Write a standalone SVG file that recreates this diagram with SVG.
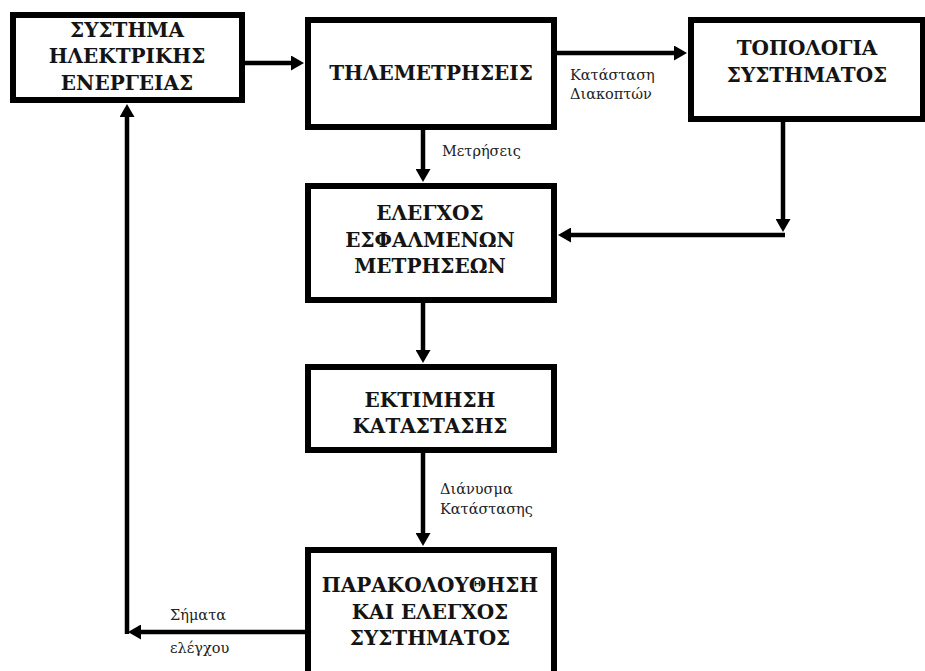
<svg xmlns="http://www.w3.org/2000/svg" width="925" height="671" viewBox="0 0 925 671">
  <defs>
    <marker id="arrow" viewBox="0 0 13 15" refX="1" refY="7.5" markerWidth="13" markerHeight="15" markerUnits="userSpaceOnUse" orient="auto">
      <path d="M0,0 L13,7.5 L0,15 z" fill="#000"/>
    </marker>
    <style>
      .box { fill: #fff; stroke: #000; stroke-width: 6; }
      .title { font-family: "DejaVu Serif", "Liberation Serif", serif; font-weight: bold; font-size: 20px; fill: #141414; text-anchor: middle; }
      .label { font-family: "DejaVu Serif", "Liberation Serif", serif; font-size: 14.5px; fill: #222; }
      .wire { fill: none; stroke: #000; stroke-width: 4.5; }
      .wire.arrow { marker-end: url(#arrow); }
    </style>
  </defs>
  <rect width="925" height="671" fill="#fff"/>

  <!-- connectors -->
  <g id="connectors">
    <path class="wire arrow" d="M245,63 H292"/>
    <path class="wire arrow" d="M557,53 H675"/>
    <path class="wire arrow" d="M423,130 V170"/>
    <path class="wire arrow" d="M783,122 V220"/>
    <path class="wire arrow" d="M785,235 H570"/>
    <path class="wire arrow" d="M423,303 V351"/>
    <path class="wire arrow" d="M423,453 V534"/>
    <path class="wire arrow" d="M305,632 H140"/>
    <path class="wire arrow" d="M127,634 V116"/>
    <text class="label" x="570" y="80">Κατάσταση</text>
    <text class="label" x="570" y="99">Διακοπτών</text>
    <text class="label" x="442" y="156">Μετρήσεις</text>
    <text class="label" x="440" y="494">Διάνυσμα</text>
    <text class="label" x="440" y="514">Κατάστασης</text>
    <text class="label" x="170" y="620">Σήματα</text>
    <text class="label" x="170" y="653">ελέγχου</text>
  </g>

  <!-- nodes -->
  <g id="power-system">
    <rect class="box" x="13" y="15" width="229" height="85"/>
    <text class="title" x="127" y="37">ΣΥΣΤΗΜΑ</text>
    <text class="title" x="127" y="63">ΗΛΕΚΤΡΙΚΗΣ</text>
    <text class="title" x="127" y="90">ΕΝΕΡΓΕΙΑΣ</text>
  </g>
  <g id="telemetry">
    <rect class="box" x="308" y="20" width="246" height="107"/>
    <text class="title" x="431" y="80">ΤΗΛΕΜΕΤΡΗΣΕΙΣ</text>
  </g>
  <g id="topology">
    <rect class="box" x="691" y="20" width="232" height="99"/>
    <text class="title" x="807" y="55">ΤΟΠΟΛΟΓΙΑ</text>
    <text class="title" x="807" y="82">ΣΥΣΤΗΜΑΤΟΣ</text>
  </g>
  <g id="bad-data">
    <rect class="box" x="308" y="186" width="246" height="114"/>
    <text class="title" x="430" y="220">ΕΛΕΓΧΟΣ</text>
    <text class="title" x="430" y="247">ΕΣΦΑΛΜΕΝΩΝ</text>
    <text class="title" x="430" y="273">ΜΕΤΡΗΣΕΩΝ</text>
  </g>
  <g id="state-estimation">
    <rect class="box" x="308" y="367" width="246" height="83"/>
    <text class="title" x="430" y="407">ΕΚΤΙΜΗΣΗ</text>
    <text class="title" x="430" y="433">ΚΑΤΑΣΤΑΣΗΣ</text>
  </g>
  <g id="monitoring">
    <rect class="box" x="308" y="550" width="246" height="140"/>
    <text class="title" x="430" y="592">ΠΑΡΑΚΟΛΟΥΘΗΣΗ</text>
    <text class="title" x="430" y="619">ΚΑΙ ΕΛΕΓΧΟΣ</text>
    <text class="title" x="430" y="645">ΣΥΣΤΗΜΑΤΟΣ</text>
  </g>
</svg>
